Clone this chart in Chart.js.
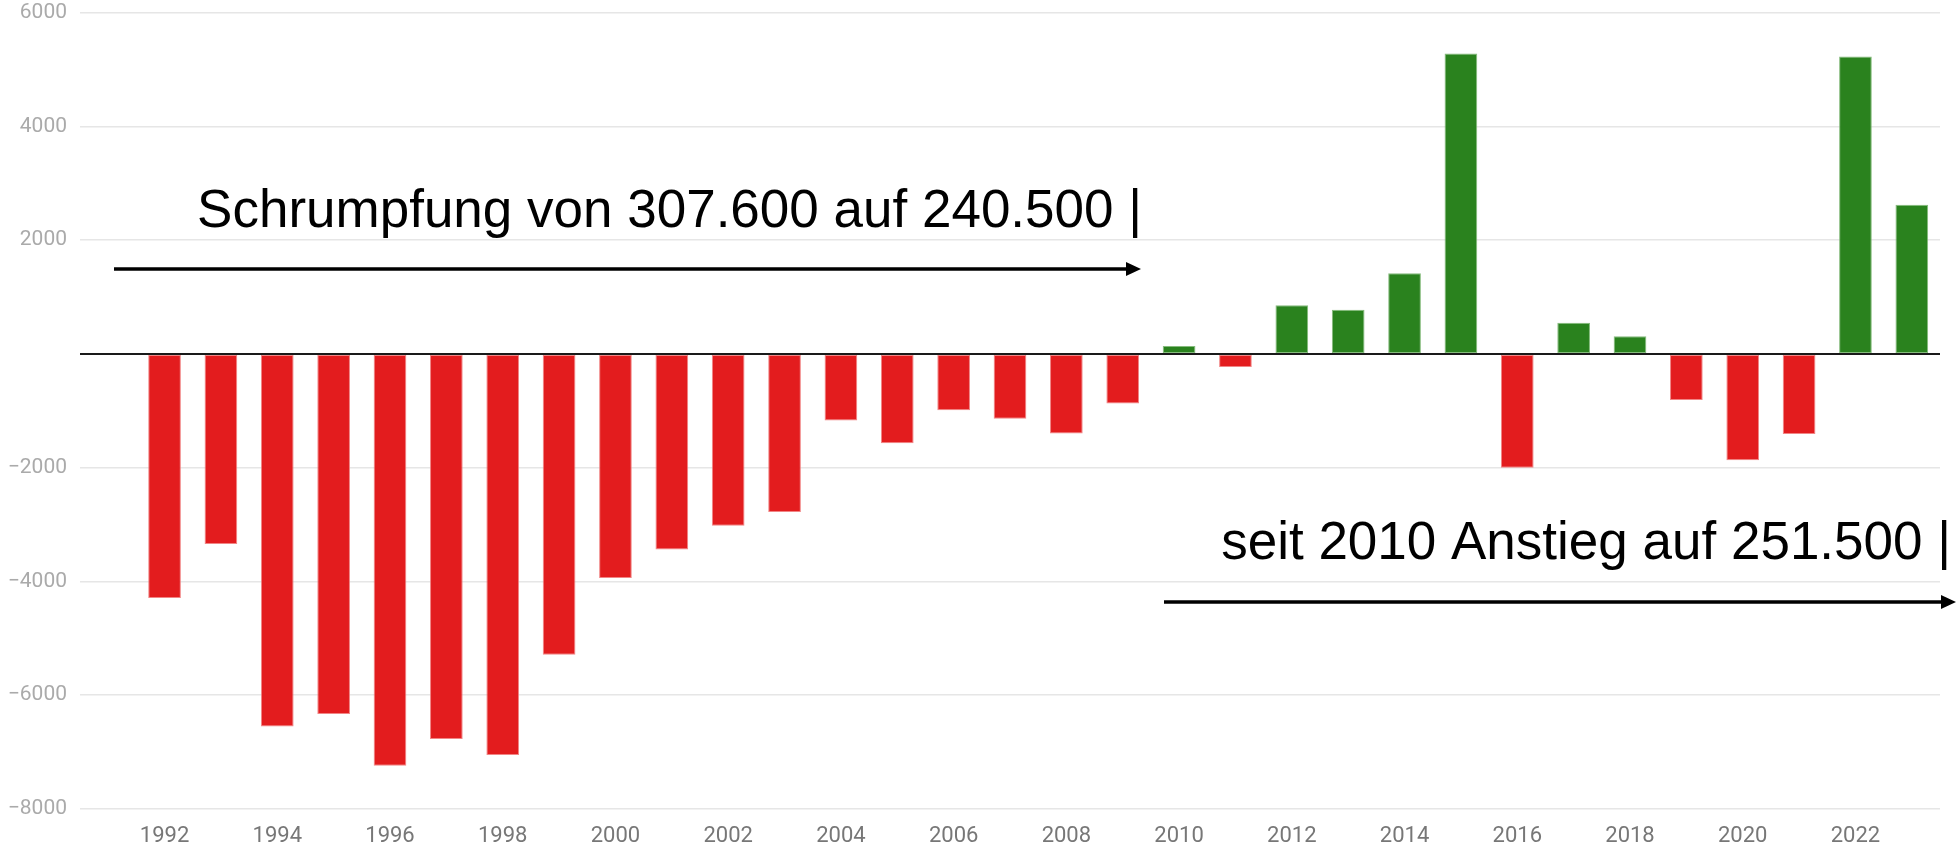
<!DOCTYPE html>
<html>
<head>
<meta charset="utf-8">
<script src="https://cdn.jsdelivr.net/npm/chart.js@4/dist/chart.umd.min.js"></script>
<style>
  html, body { margin: 0; padding: 0; background: #ffffff; }
  #wrap { width: 1957px; height: 850px; position: relative; }
</style>
</head>
<body>
<div id="wrap"><canvas id="c" width="1957" height="850"></canvas></div>
<script>
// Categories (1991 is an empty leading slot, as in the original)
const years = ['1991','1992','1993','1994','1995','1996','1997','1998','1999','2000',
  '2001','2002','2003','2004','2005','2006','2007','2008','2009','2010',
  '2011','2012','2013','2014','2015','2016','2017','2018','2019','2020',
  '2021','2022','2023'];
// Yearly change
const changes = [null, -4290, -3340, -6550, -6330, -7240, -6770, -7050, -5290, -3940,
  -3440, -3020, -2780, -1170, -1570, -990, -1140, -1400, -870, 140,
  -230, 856, 775, 1420, 5280, -2000, 546, 310, -811, -1870,
  -1410, 5230, 2620];
// Y tick values
const yTicks = [-8000, -6000, -4000, -2000, 0, 2000, 4000, 6000];
// Annotation texts
const noteLeft = 'Schrumpfung von 307.600 auf 240.500 |';
const noteRight = 'seit 2010 Anstieg auf 251.500 |';

const RED = 'rgb(227,28,30)', GREEN = 'rgb(42,130,30)';

const annotations = {
  id: 'annotations',
  afterDraw(chart) {
    const ctx = chart.ctx;
    ctx.save();
    ctx.fillStyle = '#000';
    ctx.strokeStyle = '#000';
    ctx.font = '53px "Liberation Sans", Arial, sans-serif';
    ctx.textBaseline = 'alphabetic';
    ctx.textAlign = 'right';
    ctx.fillText(noteLeft, 1142, 227);
    ctx.fillText(noteRight, 1951, 559);
    function arrow(x1, x2, y) {
      ctx.lineWidth = 3.5;
      ctx.beginPath();
      ctx.moveTo(x1, y);
      ctx.lineTo(x2 - 12, y);
      ctx.stroke();
      ctx.beginPath();
      ctx.moveTo(x2, y);
      ctx.lineTo(x2 - 15, y - 7);
      ctx.lineTo(x2 - 15, y + 7);
      ctx.closePath();
      ctx.fill();
    }
    arrow(114, 1141, 269);
    arrow(1164, 1956, 602);
    ctx.restore();
  }
};

new Chart(document.getElementById('c'), {
  type: 'bar',
  data: {
    labels: years,
    datasets: [{
      data: changes,
      backgroundColor: changes.map(v => v < 0 ? RED : GREEN),
      borderColor: changes.map(v => v < 0 ? 'rgba(240,120,120,0.9)' : 'rgba(120,180,110,0.9)'),
      borderWidth: 1,
      borderSkipped: false,
      barPercentage: 0.58,
      categoryPercentage: 1.0
    }]
  },
  options: {
    responsive: false,
    animation: false,
    events: [],
    layout: { padding: { top: 0, right: 17, bottom: 2, left: 0 } },
    plugins: { legend: { display: false }, tooltip: { enabled: false } },
    scales: {
      x: {
        afterFit(axis) { axis.height = 39; },
        grid: { display: false, drawTicks: false },
        border: { display: false },
        ticks: {
          autoSkip: false,
          maxRotation: 0,
          padding: 14,
          color: '#777777',
          font: { family: 'Roboto', size: 22 },
          callback: function(v, i) {
            const y = parseInt(years[i], 10);
            return (y % 2 === 0) ? years[i] : '';
          }
        }
      },
      y: {
        min: -8000,
        max: 6000,
        afterFit(axis) { axis.width = 80; },
        afterBuildTicks(axis) { axis.ticks = yTicks.map(v => ({ value: v })); },
        grid: {
          drawTicks: true,
          tickLength: 13,
          tickColor: 'rgba(0,0,0,0)',
          color: c => c.tick && c.tick.value === 0 ? '#1a1a1a' : '#e6e6e6',
          lineWidth: c => c.tick && c.tick.value === 0 ? 2 : 1.5
        },
        border: { display: false },
        ticks: {
          padding: 0,
          color: '#aaaaaa',
          font: { family: 'Roboto', size: 21 },
          callback: v => v === 0 ? '' : (v < 0 ? '\u2212' + Math.abs(v) : String(v))
        }
      }
    }
  },
  plugins: [annotations]
});
</script>
</body>
</html>
